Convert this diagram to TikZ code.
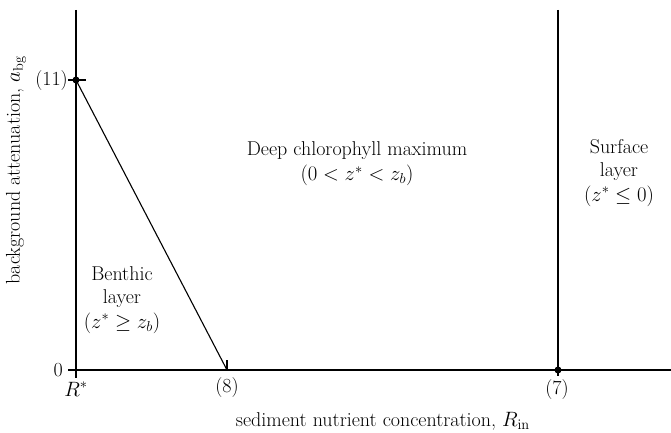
\documentclass[tikz,border=0pt]{standalone}
\usepackage{amssymb}
\begin{document}
\begin{tikzpicture}[x=1pt,y=-1pt,
  lbl/.style={font=\fontsize{20}{23}\selectfont, inner sep=1pt},
  ax/.style={line width=1.1pt},
  dot/.style={circle, fill=black, inner sep=0pt, minimum size=7pt}]
\useasboundingbox (0,0) rectangle (671,433);
% axes
\coordinate (ytop) at (76,10);
\coordinate (ybot) at (76,378);
\coordinate (xl) at (68,370);
\coordinate (xr) at (671,370);
\draw[ax] (ytop) -- (ybot);
\draw[ax] (xl) -- (xr);
% right boundary
\coordinate (rtop) at (558,10);
\coordinate (rbot) at (558,376);
\draw[ax] (rtop) -- (rbot);
% points
\node[dot] (p11) at (76,80) {};
\node[dot] (p7) at (558,370) {};
\coordinate (p8) at (227,370);
\coordinate (p8t) at (227,360);
\coordinate (t11l) at (68,80);
\coordinate (t11r) at (86,80);
\draw[ax] (t11l) -- (t11r);
\draw[ax] (p8t) -- (p8);
\draw[ax] (p11.center) -- (p8);
% tick labels
\node[lbl, anchor=east] (l11) at (69,81) {(11)};
\node[lbl, anchor=east] (l0) at (64,370) {0};
\node[lbl] (lR) at (76,389) {$R^{*}$};
\node[lbl] (l8) at (227,388) {(8)};
\node[lbl] (l7) at (557,390) {(7)};
% axis labels
\node[lbl, anchor=east] (xlab) at (531,421) {sediment nutrient concentration, $R_{\rm in}$};
\node[lbl, rotate=90, anchor=east] (ylab) at (16,55) {background attenuation, $a_{\rm bg}$};
% region labels
\node[lbl, align=center] (dcm) at (357,164) {Deep chlorophyll maximum\\[2pt]$(0<z^{*}<z_b)$};
\node[lbl, align=center] (surf) at (619,173) {Surface\\layer\\[2pt]$(z^{*}\le 0)$};
\node[lbl, align=center] (bent) at (122,300) {Benthic\\layer\\[2pt]$(z^{*}\ge z_b)$};
\end{tikzpicture}
\end{document}
